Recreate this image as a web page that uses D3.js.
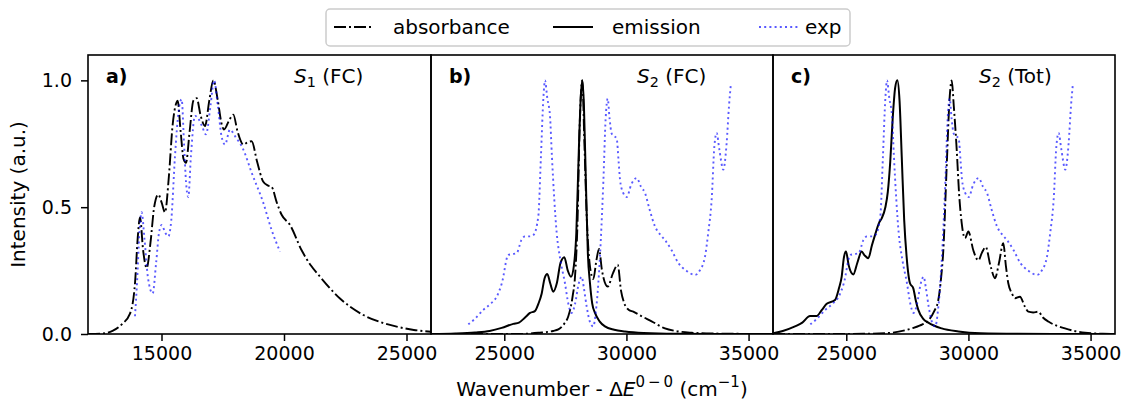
<!DOCTYPE html>
<html>
<head>
<meta charset="utf-8">
<script src="https://cdn.jsdelivr.net/npm/d3@7"></script>
<style>
    body { margin: 0; background: #fff; }
    svg { font-family: "DejaVu Sans", sans-serif; }
</style>
</head>
<body>
<div id="chart"></div>
<script>
// data ([wavenumber, intensity])
const absA = [[12000,0],[12600,0.002],[13000,0.012],[13400,0.04],[13714,0.08],[13918,0.2],[14030,0.38],[14122,0.46],[14250,0.33],[14395,0.26],[14550,0.36],[14700,0.5],[14870,0.55],[15000,0.52],[15143,0.48],[15300,0.62],[15450,0.82],[15600,0.91],[15659,0.92],[15780,0.8],[15900,0.69],[16000,0.675],[16150,0.8],[16300,0.92],[16435,0.93],[16600,0.86],[16776,0.82],[16950,0.92],[17116,1.0],[17300,0.92],[17450,0.83],[17551,0.806],[17750,0.84],[17932,0.865],[18100,0.8],[18340,0.747],[18500,0.755],[18680,0.76],[18900,0.68],[19155,0.6],[19350,0.585],[19495,0.58],[19700,0.52],[19903,0.47],[20245,0.43],[20720,0.33],[21100,0.27],[21469,0.226],[22285,0.14],[23236,0.075],[24000,0.045],[24600,0.029],[25300,0.016],[26000,0.009]];

const expA = [[13918,0.07],[14000,0.2],[14100,0.4],[14190,0.48],[14300,0.38],[14450,0.22],[14640,0.16],[14780,0.28],[14900,0.4],[15007,0.43],[15150,0.4],[15280,0.385],[15400,0.45],[15550,0.7],[15700,0.88],[15822,0.925],[15920,0.75],[16000,0.6],[16094,0.54],[16200,0.7],[16366,0.86],[16500,0.85],[16650,0.82],[16816,0.787],[17000,0.9],[17143,1.0],[17300,0.9],[17450,0.78],[17592,0.747],[17796,0.806],[18000,0.78],[18340,0.727],[18680,0.636],[19155,0.517],[19495,0.41],[19837,0.325]];

const absB = [[22000,0],[25500,0],[26394,0.005],[27000,0.012],[27212,0.018],[27450,0.04],[27621,0.07],[27800,0.15],[27895,0.226],[28000,0.45],[28080,0.8],[28194,1.0],[28280,0.75],[28380,0.45],[28508,0.266],[28645,0.217],[28770,0.29],[28877,0.335],[29000,0.25],[29233,0.187],[29450,0.24],[29643,0.273],[29780,0.17],[29913,0.121],[30100,0.095],[30281,0.088],[30622,0.07],[31031,0.05],[31576,0.022],[32000,0.012],[32668,0.005],[33500,0.002],[36000,0]];

const emiB = [[22000,0],[23000,0.002],[23801,0.006],[24400,0.012],[24894,0.024],[25369,0.04],[25600,0.045],[25850,0.065],[26053,0.083],[26250,0.09],[26400,0.12],[26532,0.16],[26650,0.22],[26760,0.237],[26880,0.2],[27006,0.167],[27150,0.2],[27300,0.28],[27457,0.303],[27600,0.25],[27731,0.226],[27850,0.27],[27950,0.4],[28050,0.72],[28130,0.93],[28194,1.0],[28260,0.9],[28340,0.6],[28420,0.32],[28508,0.2],[28600,0.12],[28713,0.083],[28900,0.05],[29123,0.03],[29500,0.017],[29941,0.01],[30700,0.004],[32000,0.001],[36000,0]];

const absC = [[22000,0],[26000,0.001],[26859,0.005],[27678,0.022],[28000,0.033],[28357,0.053],[28600,0.09],[28767,0.134],[28880,0.22],[28972,0.33],[29110,0.66],[29230,0.93],[29315,1.0],[29400,0.9],[29520,0.727],[29620,0.55],[29725,0.437],[29800,0.39],[29860,0.378],[29997,0.404],[30200,0.33],[30406,0.29],[30550,0.32],[30708,0.343],[30900,0.27],[31088,0.22],[31250,0.28],[31427,0.358],[31532,0.27],[31632,0.2],[31780,0.16],[31906,0.141],[32111,0.147],[32300,0.11],[32452,0.088],[32650,0.085],[32861,0.088],[33050,0.065],[33270,0.049],[33953,0.022],[34772,0.005],[35500,0.001],[36000,0]];

const emiC = [[22000,0.003],[22400,0.012],[22900,0.03],[23200,0.045],[23515,0.071],[23788,0.071],[24000,0.095],[24198,0.119],[24538,0.134],[24700,0.18],[24812,0.226],[24900,0.3],[24988,0.325],[25100,0.27],[25287,0.235],[25450,0.28],[25630,0.325],[25750,0.31],[25902,0.299],[26050,0.35],[26175,0.39],[26350,0.44],[26450,0.456],[26600,0.5],[26700,0.56],[26800,0.68],[26900,0.85],[27000,0.97],[27090,1.0],[27180,0.92],[27270,0.7],[27370,0.45],[27474,0.3],[27608,0.2],[27743,0.18],[27850,0.13],[27948,0.095],[28150,0.06],[28357,0.045],[28906,0.022],[29590,0.01],[30500,0.003],[32000,0.001],[36000,0]];

// experimental S2 spectrum, same in b) and c)
const expS2 = [[23527,0.038],[23800,0.06],[24141,0.095],[24450,0.12],[24689,0.147],[24900,0.2],[25165,0.312],[25350,0.315],[25509,0.319],[25700,0.37],[25848,0.385],[26050,0.385],[26190,0.39],[26393,0.464],[26500,0.7],[26600,0.93],[26667,1.0],[26760,0.93],[26871,0.86],[26950,0.7],[27144,0.4],[27300,0.29],[27485,0.2],[27620,0.12],[27759,0.083],[27900,0.12],[28050,0.2],[28168,0.226],[28260,0.18],[28373,0.108],[28500,0.05],[28645,0.03],[28750,0.09],[28850,0.2],[29055,0.6],[29150,0.85],[29233,0.928],[29310,0.85],[29397,0.79],[29500,0.78],[29601,0.77],[29680,0.68],[29737,0.61],[29850,0.56],[30011,0.54],[30200,0.59],[30420,0.615],[30600,0.58],[30760,0.556],[30950,0.49],[31170,0.424],[31400,0.39],[31579,0.37],[31850,0.33],[32124,0.28],[32450,0.25],[32807,0.233],[33000,0.25],[33216,0.305],[33350,0.4],[33489,0.53],[33600,0.74],[33694,0.793],[33800,0.73],[33966,0.648],[34100,0.75],[34200,0.9],[34280,0.99]];

const xTicksA = [15000, 20000, 25000];
const xTicksBC = [25000, 30000, 35000];
const yTicks = [0.0, 0.5, 1.0];
const legendNames = ['absorbance', 'emission', 'exp'];

// layout
const w = 1125;
const h = 404;
const plotTop = 55;
const plotBottom = 334;
const fs = 19;
const fsBig = 20;

const styles = {
    abs: { stroke: '#000', dash: '12,3,2,3', opacity: 1 },
    emi: { stroke: '#000', dash: null, opacity: 1 },
    exp: { stroke: '#0000ff', dash: '2,3.2', opacity: 0.65 }
};

const panels = [
    { x0: 88, x1: 431, domain: [12000, 26000], ticks: xTicksA, label: 'a)', state: '1', tag: 'FC',
      series: [['abs', absA], ['exp', expA]] },
    { x0: 431, x1: 773, domain: [22000, 36000], ticks: xTicksBC, label: 'b)', state: '2', tag: 'FC',
      series: [['abs', absB], ['emi', emiB], ['exp', expS2]] },
    { x0: 773, x1: 1115, domain: [22000, 36000], ticks: xTicksBC, label: 'c)', state: '2', tag: 'Tot',
      series: [['abs', absC], ['emi', emiC], ['exp', expS2]] }
];

const svg = d3.select('#chart')
    .append('svg')
    .attr('width', w)
    .attr('height', h);

const y_scale = d3.scaleLinear().domain([0, 1.1]).range([plotBottom, plotTop]);

panels.forEach((p, i) => {
    const x_scale = d3.scaleLinear().domain(p.domain).range([p.x0, p.x1]);

    svg.append('clipPath')
        .attr('id', 'clip' + i)
        .append('rect')
        .attr('x', p.x0).attr('y', plotTop)
        .attr('width', p.x1 - p.x0).attr('height', plotBottom - plotTop);

    const line = d3.line()
        .x(d => x_scale(d[0]))
        .y(d => y_scale(d[1]))
        .curve(d3.curveMonotoneX);

    const g = svg.append('g').attr('clip-path', `url(#clip${i})`);
    p.series.forEach(([key, data]) => {
        const s = styles[key];
        g.append('path')
            .datum(data)
            .attr('d', line)
            .attr('fill', 'none')
            .attr('stroke', s.stroke)
            .attr('stroke-opacity', s.opacity)
            .attr('stroke-width', key === 'emi' ? 2 : 1.9)
            .attr('stroke-dasharray', s.dash);
    });

    // x axis
    const xa = svg.append('g')
        .attr('transform', `translate(0, ${plotBottom})`)
        .call(d3.axisBottom(x_scale).tickValues(p.ticks).tickSize(7).tickPadding(6).tickFormat(d3.format('d')));
    xa.select('.domain').remove();
    xa.selectAll('line').attr('stroke-width', 1.5);
    xa.selectAll('text').attr('font-size', fs).attr('font-family', 'DejaVu Sans').attr('fill', '#000');

    if (i === 0) {
        const ya = svg.append('g')
            .attr('transform', `translate(${p.x0}, 0)`)
            .call(d3.axisLeft(y_scale).tickValues(yTicks).tickSize(7).tickPadding(9).tickFormat(d3.format('.1f')));
        ya.select('.domain').remove();
        ya.selectAll('line').attr('stroke-width', 1.5);
        ya.selectAll('text').attr('font-size', fs).attr('font-family', 'DejaVu Sans').attr('fill', '#000');
    }

    // frame
    svg.append('rect')
        .attr('x', p.x0).attr('y', plotTop)
        .attr('width', p.x1 - p.x0).attr('height', plotBottom - plotTop)
        .attr('fill', 'none')
        .attr('stroke', '#000')
        .attr('stroke-width', 1.6);

    // panel labels
    svg.append('text')
        .attr('x', p.x0 + 18).attr('y', 83)
        .attr('font-size', fs).attr('font-weight', 'bold')
        .text(p.label);

    const t = svg.append('text')
        .attr('x', p.x0 + 206).attr('y', 83)
        .attr('font-size', fsBig);
    t.append('tspan').attr('font-style', 'italic').text('S');
    t.append('tspan').attr('font-size', fsBig * 0.72).attr('dy', 4).text(p.state);
    t.append('tspan').attr('dy', -4).text(' (' + p.tag + ')');
});

// y label
svg.append('text')
    .attr('transform', `translate(25, ${(plotTop + plotBottom) / 2}) rotate(-90)`)
    .attr('text-anchor', 'middle')
    .attr('font-size', fsBig)
    .text('Intensity (a.u.)');

// x label
const xl = svg.append('text')
    .attr('x', 602).attr('y', 396)
    .attr('text-anchor', 'middle')
    .attr('font-size', fsBig);
xl.append('tspan').text('Wavenumber - \u0394');
xl.append('tspan').attr('font-style', 'italic').text('E');
xl.append('tspan').attr('font-size', fsBig * 0.75).attr('dy', -9).text('0\u2009\u2212\u20090');
xl.append('tspan').attr('dy', 9).text(' (cm');
xl.append('tspan').attr('font-size', fsBig * 0.75).attr('dy', -9).text('\u22121');
xl.append('tspan').attr('dy', 9).text(')');

// legend
const lg = svg.append('g');
lg.append('rect')
    .attr('x', 326).attr('y', 9)
    .attr('width', 524).attr('height', 37)
    .attr('rx', 4)
    .attr('fill', '#fff')
    .attr('stroke', '#ccc')
    .attr('stroke-width', 1.5);

const legendItems = [
    { key: 'abs', x: 334, tx: 393 },
    { key: 'emi', x: 553, tx: 612 },
    { key: 'exp', x: 759, tx: 805 }
];
legendItems.forEach((it, i) => {
    const s = styles[it.key];
    lg.append('line')
        .attr('x1', it.x).attr('x2', it.x + 40)
        .attr('y1', 27).attr('y2', 27)
        .attr('stroke', s.stroke)
        .attr('stroke-opacity', s.opacity)
        .attr('stroke-width', 2)
        .attr('stroke-dasharray', s.dash);
    lg.append('text')
        .attr('x', it.tx).attr('y', 34)
        .attr('font-size', fsBig)
        .text(legendNames[i]);
});
</script>
</body>
</html>
